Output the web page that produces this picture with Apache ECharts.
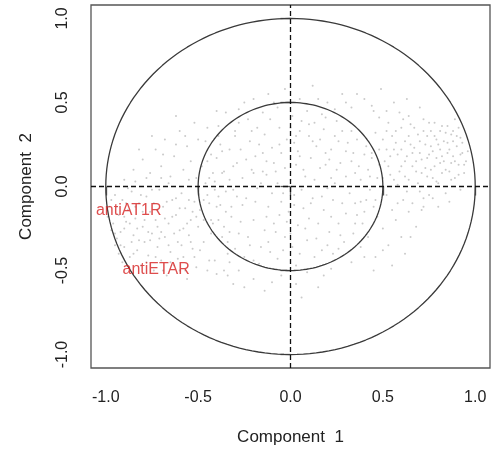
<!DOCTYPE html>
<html><head><meta charset="utf-8">
<script src="https://cdn.jsdelivr.net/npm/echarts@6/dist/echarts.min.js"></script>
<style>html,body{margin:0;padding:0;background:#fff}#c{width:491px;height:451px}</style>
</head><body><div id="c"></div>
<script>
// tick labels
var tickValues = [-1.0, -0.5, 0.0, 0.5, 1.0];
// reference circle radii
var circleRadii = [1.0, 0.5];
// labelled variables
var varNames = ['antiAT1R', 'antiETAR'];
var varComp1 = [-0.876, -0.727];
var varComp2 = [-0.142, -0.493];
// background variables (Component 1, Component 2)
var bgLeft = [[-0.98,-0.12],[-0.96,-0.22],[-0.95,-0.05],[-0.94,-0.31],[-0.93,-0.17],[-0.92,-0.27],[-0.91,-0.08],[-0.9,-0.36],[-0.89,-0.21],[-0.88,-0.14],[-0.87,-0.42],[-0.86,-0.03],[-0.85,-0.29],[-0.84,-0.19],[-0.83,-0.38],[-0.82,-0.1],[-0.81,-0.47],[-0.8,-0.24],[-0.79,-0.33],[-0.78,-0.06],[-0.77,-0.41],[-0.76,-0.15],[-0.75,-0.28],[-0.74,-0.5],[-0.73,-0.2],[-0.72,-0.36],[-0.71,-0.02],[-0.7,-0.44],[-0.69,-0.12],[-0.68,-0.3],[-0.67,-0.53],[-0.66,-0.22],[-0.65,-0.39],[-0.64,-0.08],[-0.63,-0.47],[-0.62,-0.17],[-0.61,-0.33],[-0.6,-0.26],[-0.59,-0.04],[-0.58,-0.42],[-0.57,-0.13],[-0.56,-0.55],[-0.55,-0.29],[-0.54,-0.2],[-0.53,-0.37],[-0.52,-0.09],[-0.51,-0.48],[-0.5,-0.24],
[-0.97,-0.26],[-0.93,-0.4],[-0.9,-0.18],[-0.86,-0.33],[-0.83,-0.25],[-0.8,-0.15],[-0.77,-0.27],[-0.74,-0.1],[-0.71,-0.31],[-0.68,-0.19],[-0.65,-0.45],[-0.62,-0.07],[-0.59,-0.35],[-0.56,-0.22],[-0.53,-0.15],[-0.88,-0.01],[-0.84,0.03],[-0.78,0.05],[-0.72,-0.24],[-0.66,0.02],[-0.6,-0.5],[-0.55,0.04],[-0.95,-0.35],[-0.91,-0.45],
[-0.99,-0.18],[-0.97,-0.08],[-0.95,-0.28],[-0.94,-0.12],[-0.92,-0.35],[-0.9,-0.25],[-0.89,-0.1],[-0.87,-0.22],[-0.85,-0.4],[-0.84,-0.12],[-0.82,-0.32],[-0.81,-0.05],[-0.79,-0.2],[-0.78,-0.45],[-0.76,-0.32],[-0.75,-0.02],[-0.73,-0.42],[-0.72,-0.14],[-0.7,-0.27],[-0.69,-0.5],[-0.67,-0.09],[-0.66,-0.35],[-0.64,-0.18],[-0.63,-0.28],[-0.61,-0.43],[-0.6,-0.13],[-0.58,-0.25],[-0.57,-0.5],[-0.55,-0.08],[-0.54,-0.33],[-0.52,-0.42],[-0.51,-0.18],[-0.49,-0.38],[-0.47,-0.2],[-0.45,-0.5],[-0.43,-0.28],[-0.41,-0.44],[-0.39,-0.2],[-0.36,-0.5],[-0.33,-0.45]];
var bgUpperLeft = [[-0.9,0.04],[-0.85,0.1],[-0.8,0.16],[-0.76,0.08],[-0.73,0.22],[-0.7,0.12],[-0.68,0.28],[-0.65,0.06],[-0.63,0.18],[-0.6,0.33],[-0.58,0.1],[-0.56,0.24],[-0.54,0.15],[-0.52,0.38],[-0.51,0.05],[-0.62,0.42],[-0.75,0.3],[-0.82,0.22],[-0.57,0.3],[-0.69,0.19],
[-0.49,-0.14],[-0.48,0.12],[-0.47,-0.33],[-0.46,0.27],[-0.45,-0.05],[-0.44,-0.44],[-0.43,0.19],[-0.42,-0.22],[-0.41,0.03],[-0.4,-0.52],[-0.39,0.36],[-0.38,-0.11],[-0.37,-0.3],[-0.36,0.09],[-0.35,0.44],[-0.34,-0.4],[-0.33,0.22],[-0.32,-0.18],[-0.31,-0.58],[-0.3,0.3],
[-0.45,0.35],[-0.4,0.45],[-0.25,0.5],[-0.7,0.05],[-0.62,0.25],[-0.5,0.28]];
var bgInner = [[-0.45,0.15],[-0.44,-0.1],[-0.46,0.02],[-0.43,-0.2],[-0.38,0.25],[-0.37,0.08],[-0.39,-0.06],[-0.36,-0.24],[-0.4,0.17],[-0.35,-0.15],
[-0.3,0.33],[-0.29,0.14],[-0.31,-0.02],[-0.28,-0.28],[-0.32,-0.12],[-0.27,0.22],[-0.3,-0.37],[-0.26,0.05],
[-0.23,0.4],[-0.22,0.27],[-0.21,0.1],[-0.24,-0.07],[-0.2,-0.2],[-0.22,-0.35],[-0.19,0.18],[-0.25,-0.42],[-0.18,-0.01],
[-0.15,0.44],[-0.14,0.31],[-0.13,0.15],[-0.16,0.02],[-0.12,-0.12],[-0.14,-0.26],[-0.11,-0.39],[-0.17,-0.46],[-0.1,0.23],[-0.13,0.07],
[-0.07,0.47],[-0.06,0.35],[-0.05,0.2],[-0.08,0.09],[-0.04,-0.04],[-0.06,-0.17],[-0.03,-0.3],[-0.07,-0.43],[-0.02,0.28],[-0.05,-0.09],
[0.01,0.42],[0.02,0.26],[0.03,0.13],[0.0,0.04],[0.02,-0.11],[0.04,-0.23],[0.01,-0.36],[0.03,-0.47],[0.05,0.33],[0.06,-0.02],
[0.09,0.45],[0.1,0.3],[0.11,0.17],[0.08,0.06],[0.12,-0.07],[0.1,-0.19],[0.09,-0.32],[0.13,-0.42],[0.14,0.24],[0.07,-0.13],
[0.17,0.43],[0.18,0.34],[0.19,0.2],[0.16,0.11],[0.2,-0.01],[0.18,-0.14],[0.21,-0.27],[0.17,-0.38],[0.22,0.05],[0.15,-0.22],
[0.25,0.39],[0.26,0.27],[0.27,0.14],[0.24,0.02],[0.28,-0.1],[0.26,-0.22],[0.29,-0.33],[0.23,-0.4],[0.3,0.21],
[0.33,0.33],[0.34,0.2],[0.35,0.08],[0.32,-0.04],[0.36,-0.17],[0.34,-0.28],[0.31,0.26],[0.37,0.12],
[0.41,0.24],[0.42,0.1],[0.43,-0.02],[0.4,-0.15],[0.44,0.17],[0.39,-0.22],[0.47,0.05],[0.46,-0.08],[0.48,0.13],
[-0.33,0.04],[-0.27,-0.21],[-0.18,0.35],[-0.09,-0.22],[0.05,0.18],[0.13,0.38],[0.22,-0.18],[0.3,0.06],[0.38,-0.09],[-0.41,-0.02],[-0.2,0.08],[0.0,-0.28],[0.24,0.3],[-0.12,-0.33],[0.15,0.0],
[-0.42,0.08],[-0.4,-0.12],[-0.37,0.21],[-0.35,-0.03],[-0.33,-0.27],[-0.31,0.12],[-0.28,0.38],[-0.26,-0.11],[-0.24,0.16],[-0.23,-0.3],[-0.21,0.33],[-0.19,-0.09],[-0.17,0.25],[-0.16,-0.36],[-0.15,0.09],[-0.13,-0.18],[-0.11,0.4],[-0.1,-0.04],[-0.09,0.14],[-0.08,-0.27],[-0.06,0.25],[-0.04,-0.38],[-0.03,0.11],[-0.01,-0.15],[0.0,0.35],[0.02,-0.05],[0.04,0.21],[0.05,-0.4],[0.07,0.1],[0.08,-0.25],[0.1,0.37],[0.11,-0.1],[0.13,0.04],[0.14,-0.31],[0.16,0.28],[0.17,-0.06],[0.19,0.13],[0.2,-0.35],[0.22,0.22],[0.23,-0.08],[0.25,0.1],[0.27,-0.29],[0.28,0.33],[0.3,-0.16],[0.31,0.0],[0.33,0.15],[0.35,-0.22],[0.36,0.28],[0.38,0.04],[0.4,0.19],[0.41,-0.08],[0.43,0.06],[0.45,-0.12],[0.44,0.2],[-0.47,-0.08],[-0.44,0.05],[-0.39,0.3],[-0.34,-0.33],[-0.29,-0.06],[-0.2,-0.44],[-0.02,-0.21],[0.06,0.39],[0.19,0.41],[0.26,-0.37],[0.12,0.27],[-0.07,0.02],[-0.15,0.2],[0.03,0.3],[0.21,0.16],[0.35,-0.1]];
var bgTopBottom = [[-0.28,0.46],[-0.2,0.52],[-0.12,0.55],[-0.03,0.58],[0.05,0.52],[0.12,0.6],[0.2,0.5],[0.28,0.55],[0.33,0.47],[0.4,0.52],[-0.09,0.5],[0.24,0.46],
[-0.28,-0.5],[-0.2,-0.55],[-0.14,-0.62],[-0.05,-0.53],[0.03,-0.58],[0.09,-0.51],[0.15,-0.6],[0.22,-0.49],[-0.25,-0.6],[0.06,-0.66],[-0.34,-0.53],
[0.38,-0.36],[0.42,-0.3],[0.46,-0.42],[0.5,-0.25],[0.53,-0.35],[0.57,-0.2],[0.6,-0.3],[0.64,-0.15],[0.68,-0.24],[0.72,-0.12],[0.45,-0.5],[0.33,-0.45],[0.55,-0.47],[0.75,-0.05],[0.62,-0.4],
[0.36,0.55],[0.44,0.48],[0.49,0.58],[0.56,0.5],[0.63,0.52],[0.7,0.47],[0.52,0.45],
[0.0,0.5],[0.15,0.52],[0.3,0.5],[0.45,0.45],[0.0,-0.6],[-0.1,-0.57],[0.18,-0.53],[0.4,-0.42],[0.5,-0.38],[0.65,-0.3]];
var bgRight = [[0.5,0.28],[0.51,0.15],[0.52,-0.05],[0.53,0.38],[0.54,0.07],[0.55,-0.14],[0.56,0.22],[0.57,0.33],[0.58,0.01],[0.59,0.44],[0.6,0.12],[0.61,-0.08],[0.62,0.27],[0.63,0.18],[0.64,0.04],[0.65,0.37],[0.66,-0.1],[0.67,0.23],[0.68,0.09],[0.69,0.31],[0.7,-0.03],[0.71,0.16],[0.72,0.4],[0.73,0.25],[0.74,0.06],[0.75,0.19],[0.76,0.33],[0.77,-0.07],[0.78,0.12],[0.79,0.28],[0.8,0.02],[0.81,0.22],[0.82,0.36],[0.83,0.15],[0.84,-0.04],[0.85,0.26],[0.86,0.09],[0.87,0.31],[0.88,0.18],[0.89,0.05],[0.9,0.24],[0.91,0.13],[0.92,0.29],[0.93,0.2],[0.94,0.08],
[0.7,0.2],[0.73,0.11],[0.76,0.24],[0.79,0.17],[0.82,0.08],[0.85,0.2],[0.88,0.27],[0.91,0.35],[0.84,0.32],[0.78,0.38],[0.74,0.3],[0.68,0.15],[0.65,0.25],[0.62,0.06],[0.58,0.19],[0.55,0.3],[0.52,0.22],[0.8,-0.12],[0.86,-0.09],[0.92,-0.02],[0.95,0.15],[0.89,0.4],[0.81,0.14],[0.77,0.05],[0.87,0.14],[0.71,-0.14],[0.64,0.42],[0.6,0.35],[0.48,0.41],[0.46,0.32],
[0.5,0.05],[0.52,0.33],[0.54,0.18],[0.56,0.04],[0.57,0.26],[0.59,0.09],[0.6,0.22],[0.61,0.4],[0.63,-0.03],[0.64,0.3],[0.66,0.12],[0.67,0.35],[0.69,0.02],[0.7,0.27],[0.71,0.08],[0.72,0.33],[0.74,0.17],[0.75,0.38],[0.76,0.1],[0.77,0.21],[0.78,0.3],[0.79,0.03],[0.8,0.25],[0.81,0.33],[0.82,0.18],[0.83,0.27],[0.84,0.1],[0.85,0.36],[0.86,0.22],[0.87,0.04],[0.88,0.33],[0.89,0.15],[0.9,0.3],[0.91,0.07],[0.92,0.19],[0.93,0.26],[0.94,0.13],[0.96,0.21],[0.72,-0.07],[0.66,0.2],[0.58,-0.1],[0.53,0.12],[0.48,0.22],[0.47,-0.18],[0.62,0.15],[0.75,0.0]];

var bgPoints = [].concat(bgLeft, bgUpperLeft, bgInner, bgTopBottom, bgRight);

function circleData(r) {
  var pts = [];
  for (var i = 0; i <= 360; i += 2) {
    var a = i * Math.PI / 180;
    pts.push([r * Math.cos(a), r * Math.sin(a)]);
  }
  return pts;
}

var chart = echarts.init(document.getElementById('c'), null, {renderer: 'canvas'});
var font = 'Liberation Sans, Arial, sans-serif';
var series = [{
  type: 'scatter', data: bgPoints, symbolSize: 2, silent: true,
  itemStyle: {color: '#bdbdbd'}, z: 1
}];
circleRadii.forEach(function (r) {
  series.push({
    type: 'line', data: circleData(r), showSymbol: false, silent: true, smooth: false,
    lineStyle: {color: '#3a3a3a', width: 1.3}, z: 3
  });
});
series.push({
  type: 'line', data: [[-1.08, 0], [1.08, 0]], showSymbol: false, silent: true,
  lineStyle: {color: '#111', width: 1.3, type: [5, 3]}, z: 4
});
series.push({
  type: 'line', data: [[0, -1.08], [0, 1.08]], showSymbol: false, silent: true,
  lineStyle: {color: '#111', width: 1.3, type: [5, 3]}, z: 4
});
series.push({
  type: 'scatter', symbolSize: 0, silent: true, z: 5,
  data: varNames.map(function (n, i) { return {name: n, value: [varComp1[i], varComp2[i]]}; }),
  label: {show: true, position: 'inside', formatter: '{b}', color: '#d62020', fontSize: 16, fontFamily: font}
});

chart.setOption({
  animation: false,
  grid: {left: 91, top: 5, width: 399, height: 365, show: true, borderColor: '#555', borderWidth: 1.3, backgroundColor: 'transparent'},
  xAxis: {
    type: 'value', min: -1.08, max: 1.08,
    axisLine: {show: false}, splitLine: {show: false},
    axisTick: {show: true, customValues: tickValues, length: 9, lineStyle: {color: '#555', width: 1.3}},
    axisLabel: {customValues: tickValues, formatter: function (v) { return v.toFixed(1); }, fontSize: 16, color: '#222', fontFamily: font, margin: 22},
    name: 'Component  1', nameLocation: 'middle', nameGap: 61,
    nameTextStyle: {fontSize: 17, color: '#222', fontFamily: font}
  },
  yAxis: {
    type: 'value', min: -1.08, max: 1.08,
    axisLine: {show: false}, splitLine: {show: false},
    axisTick: {show: true, customValues: tickValues, length: 10, lineStyle: {color: '#555', width: 1.3}},
    axisLabel: {customValues: tickValues, formatter: function (v) { return v.toFixed(1); }, fontSize: 16, color: '#222', fontFamily: font, rotate: 90, margin: 20},
    name: 'Component  2', nameLocation: 'middle', nameGap: 56,
    nameTextStyle: {fontSize: 17, color: '#222', fontFamily: font}
  },
  series: series
});
</script></body></html>
